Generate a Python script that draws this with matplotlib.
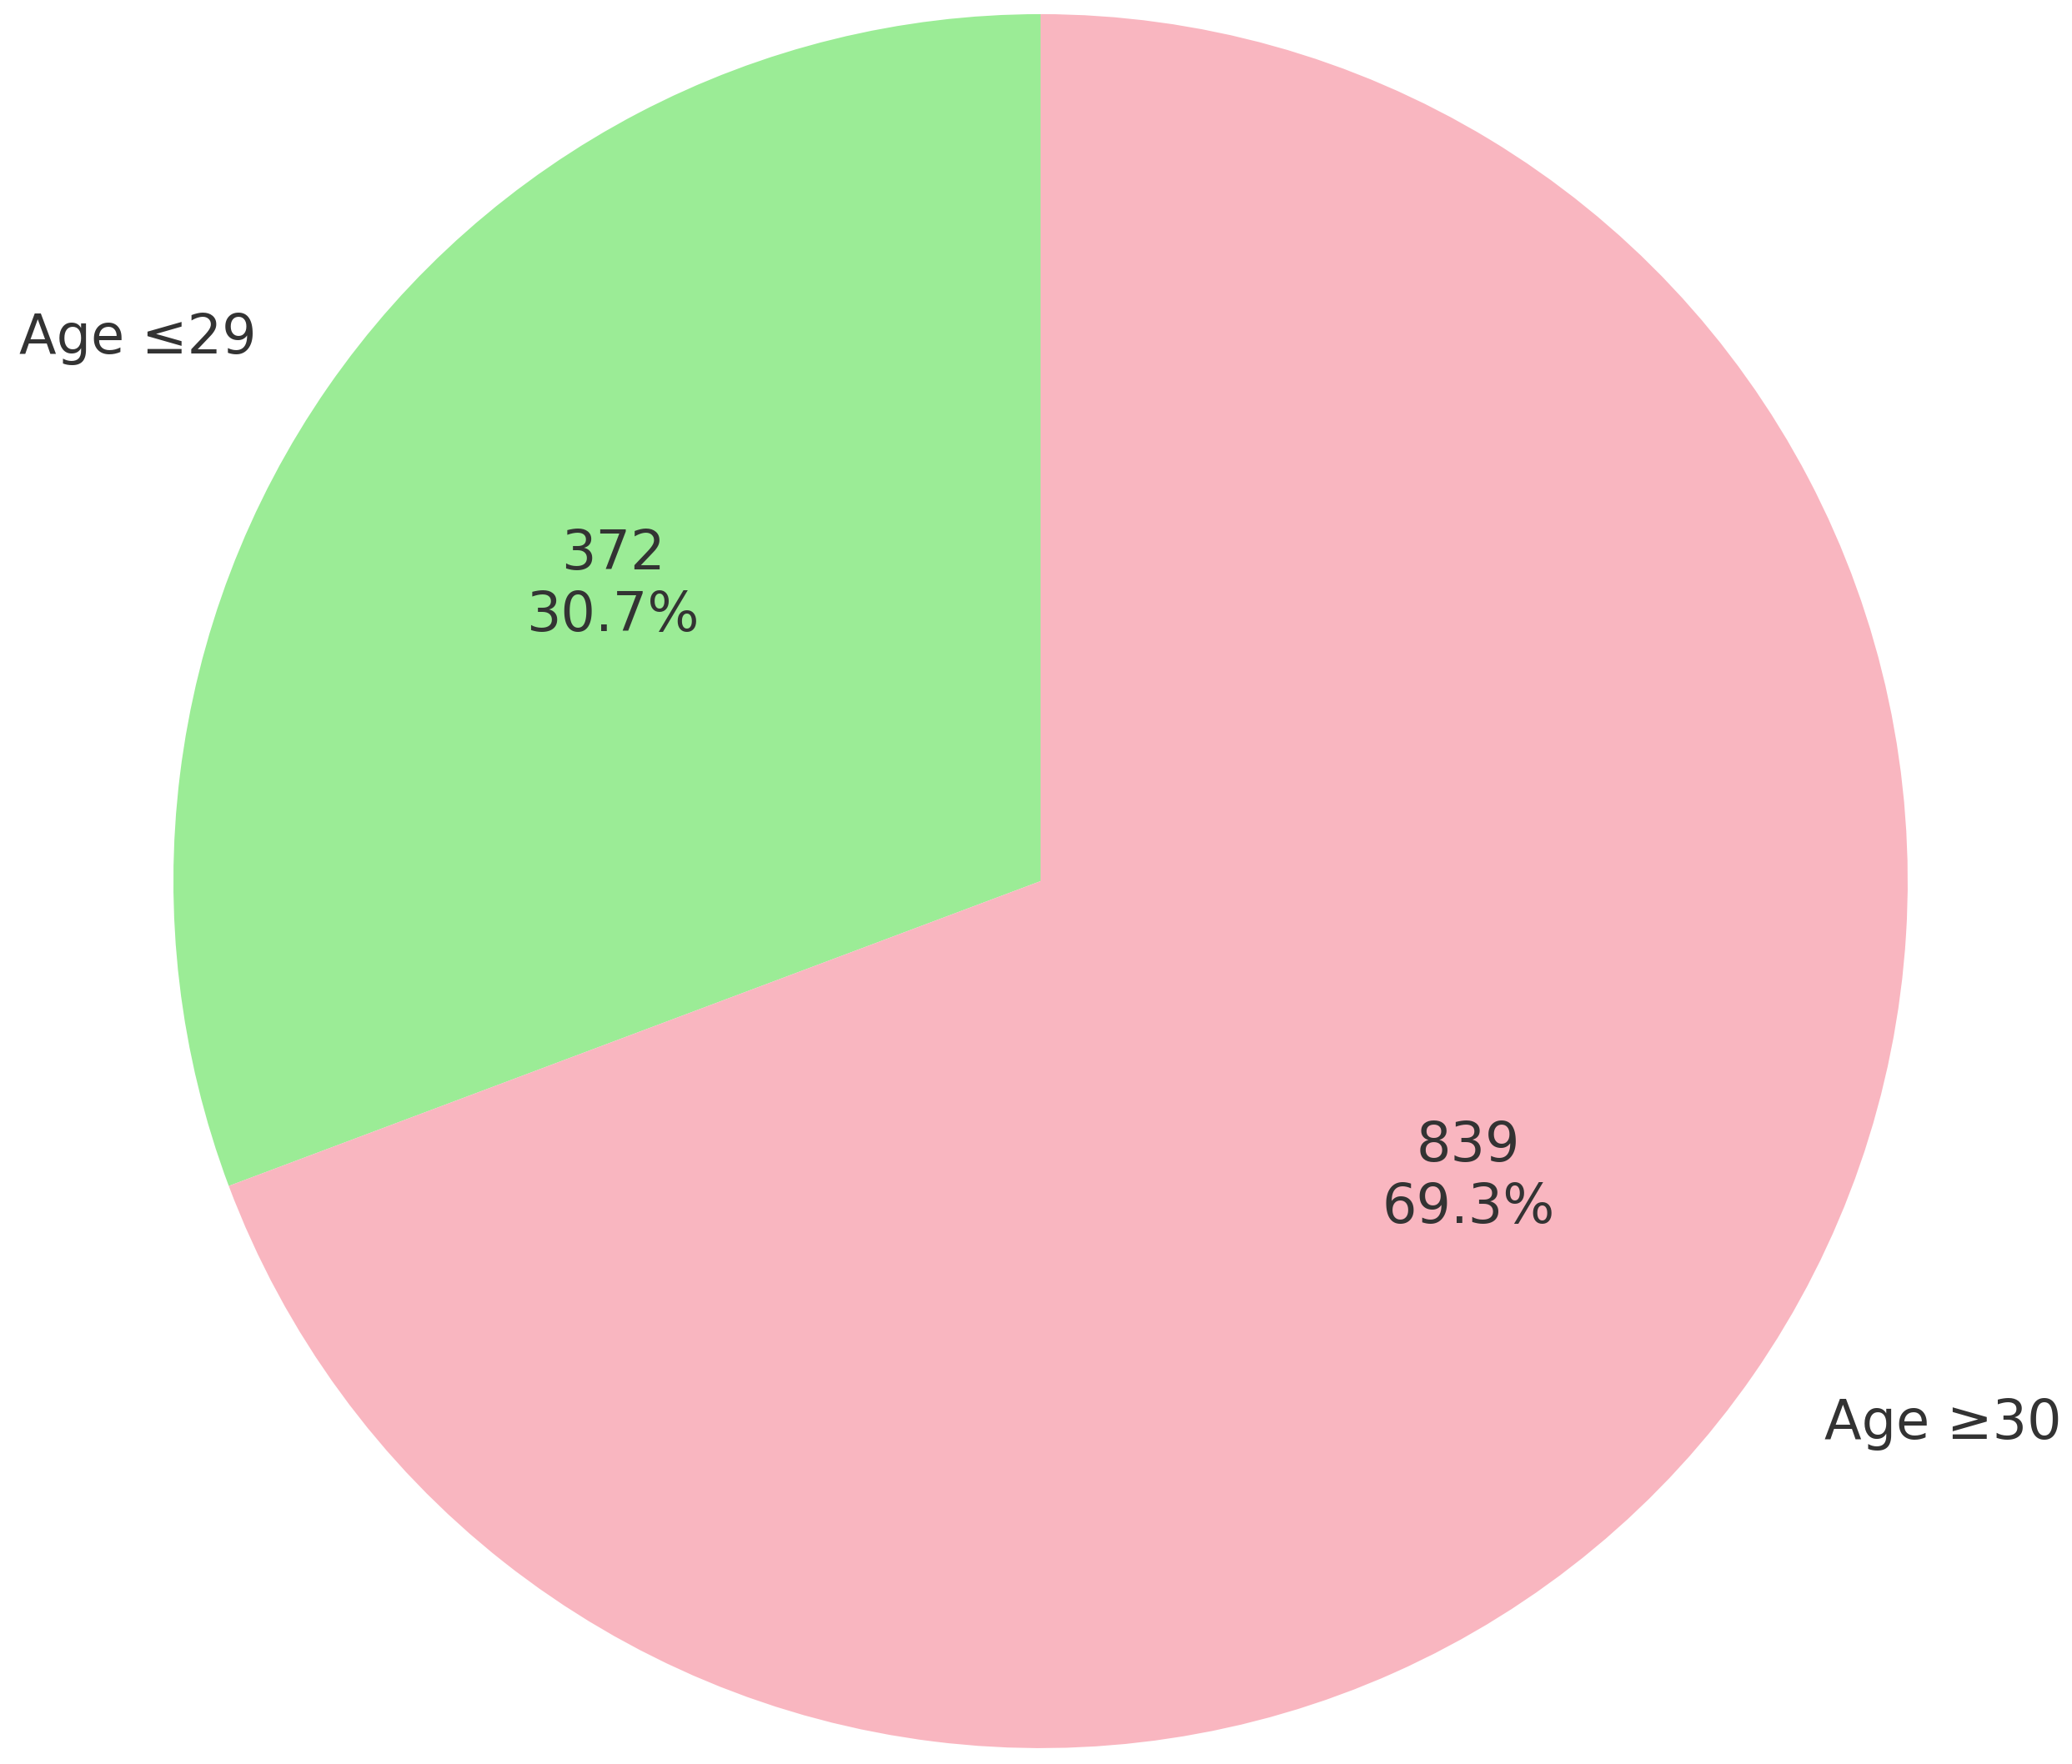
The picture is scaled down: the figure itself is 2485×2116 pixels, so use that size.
import matplotlib
matplotlib.use('Agg')
from matplotlib import pyplot as plt

labels = ['Age \u226429', 'Age \u226530']
counts = [372, 839]
colors = ['#9BEC96', '#F9B6C0']

total = sum(counts)


def fmt(pct):
    # show count and percentage on two lines
    return f'{round(pct * total / 100)}\n{pct:.1f}%'


fig = plt.figure(figsize=(24.85, 21.16), dpi=100)
ax = fig.add_axes([0.0837, 0.009, 0.837, 0.983])
wedges, texts, autotexts = ax.pie(counts, labels=labels, colors=colors, autopct=fmt,
                                  startangle=90, textprops={'fontsize': 47, 'color': '#333333'})
ax.set_xlim(-1, 1)
ax.set_ylim(-1, 1)
ax.set_aspect('equal')
for t in texts:
    t.set_clip_on(False)

fig.savefig('out.png', dpi=100)
